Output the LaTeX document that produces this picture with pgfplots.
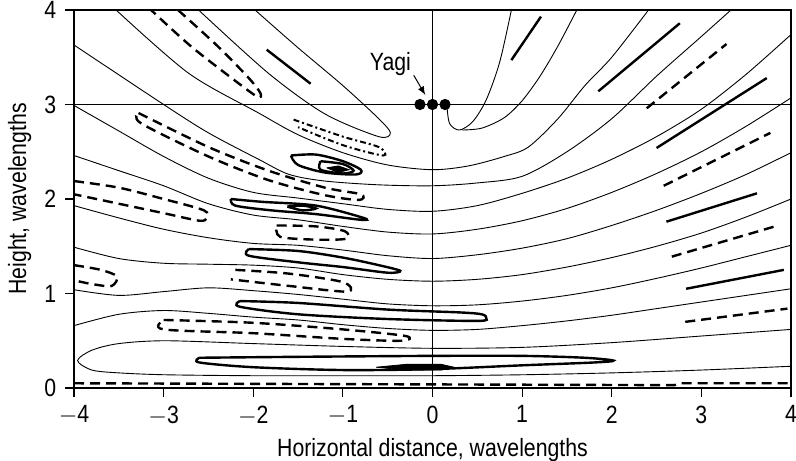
\documentclass[border=0pt]{standalone}
\usepackage{pgfplots}
\pgfplotsset{compat=1.18}
\usepackage{fontspec}
\setmainfont[FakeStretch=0.85]{Liberation Sans}
\begin{document}
\fontsize{12.5}{15}\selectfont
\begin{tikzpicture}[
  thinc/.style={black, line width=0.45pt, smooth},
  thk/.style={black, line width=1.2pt, smooth},
  dsh/.style={black, line width=1.2pt, smooth, dash pattern=on 5pt off 3pt},
  ddot/.style={black, line width=1pt, smooth, dash pattern=on 3pt off 1.5pt on 1pt off 1.5pt}]
\begin{axis}[
  scale only axis, width=358.5pt, height=189pt,
  xmin=-4, xmax=4, ymin=0, ymax=4,
  xtick={-4,...,4}, ytick={0,...,4},
  xticklabels={$-$4,$-$3,$-$2,$-$1,0,1,2,3,4},
  tick align=outside, tick pos=left,
  major tick length=4.5pt,
  axis line style={line width=0.6pt},
  tick style={line width=0.6pt, black},
  /pgf/number format/assume math mode=true,
  xlabel={Horizontal distance, wavelengths},
  ylabel={Height, wavelengths},
  xlabel style={yshift=2pt},
  ylabel style={yshift=-2pt},
  clip=true,
]
% grid lines
\addplot[black, line width=0.5pt] coordinates {(0,0) (0,4)};
\addplot[black, line width=0.5pt] coordinates {(-4,3) (4,3)};
% thin contours
\addplot[thinc] coordinates {(-3.53,4) (-2.72,3.33) (-1.94,2.91) (-1.5,2.68) (-1.0,2.49) (-0.5,2.36) (0,2.31) (0.4,2.35) (0.8,2.45) (1.07,2.55) (1.4,2.85) (1.7,3.2) (2.0,3.5) (2.41,4)};
\addplot[thinc] coordinates {(1.61,4) (1.4,3.62) (1.2,3.3) (1.0,3.04) (0.8,2.86) (0.55,2.75) (0.33,2.73)};
\addplot[thinc] coordinates {(-4,3.63) (-3,3.0) (-2.5,2.7) (-1.94,2.42) (-1.6,2.26) (-1.2,2.19) (-0.6,2.15) (0,2.14) (0.5,2.17) (1,2.24) (1.5,2.5) (2,2.85) (2.5,3.3) (3.0,3.72) (3.33,4)};
\addplot[thinc] coordinates {(-4,2.99) (-3.5,2.72) (-3,2.45) (-2.5,2.22) (-2,2.07) (-1.5,2.01) (-1,1.95) (-0.5,1.89) (0,1.87) (0.5,1.93) (1,2.06) (1.5,2.22) (2,2.42) (2.5,2.66) (3,2.95) (3.5,3.32) (4,3.74)};
\addplot[thinc] coordinates {(-4,2.46) (-3.5,2.3) (-3,2.14) (-2.5,1.95) (-2,1.83) (-1.5,1.78) (-1,1.71) (-0.5,1.65) (0,1.63) (0.5,1.68) (1,1.77) (1.5,1.9) (2,2.07) (2.5,2.27) (3,2.5) (3.5,2.77) (4,3.07)};
\addplot[thinc] coordinates {(-4,1.93) (-3.5,1.8) (-3,1.68) (-2.5,1.59) (-2,1.53) (-1.5,1.51) (-1,1.46) (-0.5,1.4) (0,1.37) (0.5,1.41) (1,1.48) (1.5,1.58) (2,1.72) (2.5,1.88) (3,2.06) (3.5,2.26) (4,2.49)};
\addplot[thinc] coordinates {(-4,1.49) (-3.5,1.37) (-3,1.32) (-2.5,1.31) (-2,1.3) (-1.5,1.27) (-1,1.2) (-0.5,1.15) (0,1.13) (0.5,1.15) (1,1.2) (1.5,1.28) (2,1.38) (2.5,1.5) (3,1.64) (3.5,1.81) (4,2.0)};
\addplot[thinc] coordinates {(-4,1.04) (-3.5,0.98) (-3,1.02) (-2.5,1.06) (-2,1.03) (-1.5,0.99) (-1,0.94) (-0.5,0.89) (0,0.87) (0.5,0.88) (1,0.92) (1.5,0.98) (2,1.06) (2.5,1.16) (3,1.27) (3.5,1.39) (4,1.51)};
\addplot[thinc] coordinates {(-4,0.66) (-3.5,0.78) (-3,0.82) (-2.5,0.79) (-2,0.75) (-1.5,0.72) (-1,0.67) (-0.5,0.63) (0,0.61) (0.5,0.62) (1,0.66) (1.5,0.71) (2,0.77) (2.5,0.84) (3,0.91) (3.5,0.98) (4,1.05)};
\addplot[thinc] coordinates {(4,0.62) (3,0.55) (2,0.48) (1,0.43) (0,0.42) (-1,0.44) (-2,0.47) (-2.98,0.50) (-3.5,0.47) (-3.8,0.40) (-3.96,0.29) (-3.8,0.19) (-3.5,0.16) (-2.98,0.14) (-2,0.13) (-1,0.13) (0,0.13) (1,0.14) (2,0.16) (3,0.19) (4,0.23)};
% tongue
\addplot[thinc] coordinates {(-1.98,4) (-1.5,3.6) (-1.0,3.2) (-0.6,2.85) (-0.47,2.70) (-0.6,2.66) (-1.2,2.9) (-1.83,3.33) (-2.61,4)};
% Yagi curve
\addplot[thinc] coordinates {(0.16,3.0) (0.19,2.8) (0.3,2.73) (0.45,2.82) (0.6,3.05) (0.75,3.45) (0.88,4)};
% thick loops
\addplot[thk] coordinates {(-1.58,2.46) (-1.3,2.47) (-1.0,2.40) (-0.8,2.31) (-0.85,2.26) (-1.2,2.28) (-1.5,2.36) (-1.58,2.46)};
\addplot[thk] coordinates {(-1.25,2.40) (-1.0,2.37) (-0.88,2.30) (-1.0,2.27) (-1.25,2.31) (-1.25,2.40)};
\addplot[black, fill=black] coordinates {(-1.18,2.33) (-1.05,2.35) (-0.93,2.31) (-1.05,2.28) (-1.18,2.33)};
\addplot[thk] coordinates {(-2.25,2.0) (-1.9,1.97) (-1.3,1.93) (-0.77,1.8) (-0.8,1.78) (-1.3,1.84) (-1.8,1.88) (-2.2,1.93) (-2.25,2.0)};
\addplot[thk] coordinates {(-1.62,1.92) (-1.45,1.93) (-1.3,1.9) (-1.45,1.88) (-1.62,1.92)};
\addplot[thk] coordinates {(-2.05,1.47) (-1.5,1.45) (-1.0,1.38) (-0.6,1.30) (-0.36,1.24) (-0.5,1.22) (-1.0,1.28) (-1.5,1.33) (-2.05,1.40) (-2.05,1.47)};
\addplot[thk] coordinates {(-2.15,0.92) (-1.5,0.9) (-0.5,0.83) (0.3,0.80) (0.55,0.78) (0.6,0.74) (0.5,0.71) (-0.5,0.73) (-1.5,0.78) (-2.15,0.86) (-2.15,0.92)};
\addplot[thk] coordinates {(-2.6,0.32) (-1.5,0.33) (0,0.34) (1.0,0.34) (1.7,0.32) (2.02,0.29) (1.8,0.27) (1.0,0.24) (0,0.20) (-1,0.19) (-2.0,0.22) (-2.6,0.27) (-2.6,0.32)};
\addplot[black, fill=black] coordinates {(-0.63,0.22) (-0.3,0.25) (0.1,0.25) (0.24,0.22) (0.1,0.19) (-0.3,0.19) (-0.63,0.22)};
% thick dashed loops
\addplot[dsh] coordinates {(-2.84,4) (-2.4,3.62) (-2.05,3.28) (-1.92,3.12) (-1.95,3.08) (-2.2,3.25) (-2.7,3.62) (-3.14,4)};
\addplot[dsh] coordinates {(-3.28,2.91) (-2.5,2.55) (-1.83,2.30) (-1.2,2.12) (-0.8,2.05) (-0.82,1.99) (-1.2,2.04) (-1.83,2.20) (-2.5,2.45) (-3.25,2.8) (-3.28,2.91)};
\addplot[ddot] coordinates {(-1.55,2.84) (-1.0,2.66) (-0.6,2.55) (-0.55,2.46) (-1.0,2.57) (-1.5,2.76)};
\addplot[dsh] coordinates {(-4,2.19) (-3.5,2.12) (-3.0,2.0) (-2.55,1.88) (-2.52,1.8) (-2.6,1.77) (-3.0,1.85) (-3.5,1.95) (-4,2.05)};
\addplot[dsh] coordinates {(-1.74,1.72) (-1.3,1.71) (-0.98,1.66) (-0.96,1.58) (-1.3,1.57) (-1.7,1.6) (-1.74,1.72)};
\addplot[dsh] coordinates {(-2.2,1.25) (-1.6,1.21) (-1.0,1.12) (-0.95,1.02) (-1.6,1.08) (-2.25,1.15)};
\addplot[dsh] coordinates {(-4,1.30) (-3.7,1.25) (-3.52,1.18) (-3.58,1.08) (-3.8,1.10) (-4,1.14)};
\addplot[dsh] coordinates {(-3.0,0.72) (-2.0,0.69) (-1.0,0.62) (-0.3,0.55) (-0.35,0.50) (-1.0,0.52) (-2.0,0.58) (-3.0,0.62) (-3.0,0.72)};
\addplot[black, line width=1.2pt, dash pattern=on 5pt off 3pt] coordinates {(-4,0.05) (2.7,0.03) (2.75,0.05) (4,0.05)};
% right side short lines
\addplot[thk] coordinates {(0.88,3.47) (1.21,3.93)};
\addplot[thk] coordinates {(1.85,3.14) (2.76,3.86)};
\addplot[thk] coordinates {(2.5,2.54) (3.73,3.28)};
\addplot[thk] coordinates {(2.61,1.76) (3.62,2.06)};
\addplot[thk] coordinates {(2.83,1.05) (3.92,1.25)};
\addplot[thk] coordinates {(-1.85,3.58) (-1.36,3.22)};
\addplot[dsh] coordinates {(2.39,2.96) (3.28,3.64)};
\addplot[dsh] coordinates {(2.58,2.14) (3.77,2.70)};
\addplot[dsh] coordinates {(2.67,1.39) (3.82,1.71)};
\addplot[dsh] coordinates {(2.82,0.70) (3.96,0.84)};
% Yagi
\addplot[only marks, mark=*, mark size=2.6pt, black] coordinates {(-0.14,3) (0,3) (0.14,3)};
\node[font=\fontsize{12.5}{15}\selectfont] at (axis cs:-0.47,3.43) {Yagi};
\draw[-latex, line width=0.5pt] (axis cs:-0.21,3.31) -- (axis cs:-0.08,3.10);
\end{axis}
\pgfresetboundingbox
\path (current axis.south west) ++(-37pt,-36pt) coordinate (bbA);
\path (current axis.north east) ++(2.5pt,5pt) coordinate (bbB);
\useasboundingbox (bbA) rectangle (bbB);
\end{tikzpicture}
\end{document}
